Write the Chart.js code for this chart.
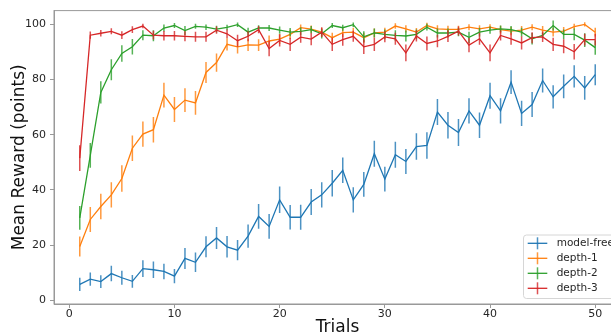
<!DOCTYPE html>
<html>
<head>
<meta charset="utf-8">
<script src="https://cdn.jsdelivr.net/npm/chart.js@4.4.0/dist/chart.umd.min.js"></script>
<style>
  html, body { margin: 0; padding: 0; background: #fff; overflow: hidden; }
  #wrap { width: 640px; height: 336px; }
</style>
</head>
<body>
<div id="wrap"><canvas id="chart" width="640" height="336"></canvas></div>
<script>
// x categories (trial number) and tick labels
const trials = [1, 2, 3, 4, 5, 6, 7, 8, 9, 10, 11, 12, 13, 14, 15, 16, 17, 18, 19, 20,
  21, 22, 23, 24, 25, 26, 27, 28, 29, 30, 31, 32, 33, 34, 35, 36, 37, 38, 39, 40,
  41, 42, 43, 44, 45, 46, 47, 48, 49, 50];
const xTicks = [0, 10, 20, 30, 40, 50];
const yTicks = [0, 20, 40, 60, 80, 100];

const seriesNames = ['model-free', 'depth-1', 'depth-2', 'depth-3'];
const seriesColors = ['#1f77b4', '#ff7f0e', '#2ca02c', '#d62728'];

// mean reward per trial
const modelFree = [5.8, 7.7, 6.8, 9.7, 8.2, 6.9, 11.5, 11.1, 10.5, 8.8,
  15.2, 13.8, 19.4, 22.6, 19.4, 18.2, 23.3, 30.4, 26.8, 36.4,
  30.1, 30.1, 35.6, 38.2, 42.4, 47.1, 36.4, 42.0, 53.1, 43.9,
  52.7, 50.3, 55.7, 56.1, 68.2, 63.4, 60.8, 68.6, 63.4, 74.1,
  68.6, 79.0, 67.7, 70.9, 79.6, 73.7, 77.5, 81.1, 76.9, 81.7];
const depth1 = [19.5, 29.3, 34.0, 38.2, 44.1, 55.1, 60.2, 61.8, 74.3, 69.1,
  72.5, 71.5, 82.5, 86.1, 92.7, 91.8, 92.5, 92.4, 93.9, 94.6,
  96.3, 98.7, 98.2, 97.1, 95.1, 96.9, 97.1, 95.1, 96.8, 97.1,
  99.3, 98.3, 97.1, 99.5, 98.3, 98.1, 98.1, 98.9, 98.3, 98.9,
  98.0, 97.5, 97.8, 98.9, 97.8, 97.1, 97.5, 99.1, 99.9, 97.1];
const depth2 = [29.9, 52.5, 75.3, 83.5, 89.4, 91.8, 96.0, 95.8, 98.6, 99.5,
  97.7, 99.2, 98.9, 98.2, 98.8, 99.8, 97.1, 98.6, 98.6, 97.8,
  97.1, 97.4, 98.0, 96.5, 99.5, 98.7, 99.8, 95.4, 96.8, 96.3,
  95.9, 95.7, 96.3, 98.9, 96.8, 96.8, 97.1, 95.2, 97.1, 97.8,
  98.3, 98.0, 97.1, 94.7, 95.9, 99.5, 96.3, 96.3, 94.2, 91.5];
const depth3 = [51.5, 96.0, 96.7, 97.4, 96.0, 98.0, 99.3, 96.0, 95.8, 95.8,
  95.6, 95.4, 95.4, 97.8, 96.5, 94.0, 95.6, 98.0, 91.2, 94.1,
  92.7, 95.3, 94.6, 97.1, 92.7, 94.4, 95.6, 91.8, 92.7, 95.4,
  94.7, 89.6, 95.7, 93.0, 93.9, 95.6, 97.5, 92.4, 94.7, 89.6,
  95.9, 94.7, 93.2, 95.1, 95.4, 92.7, 92.0, 90.0, 94.4, 94.4];

// error bar half-lengths
const modelFreeErr = [2.4, 2.4, 2.3, 2.8, 2.5, 2.3, 3.0, 3.0, 2.8, 2.6,
  3.8, 3.5, 3.8, 4.0, 3.9, 3.7, 4.2, 4.5, 4.5, 4.8,
  4.4, 4.5, 4.7, 4.6, 4.8, 4.6, 4.6, 4.5, 4.7, 4.5,
  4.7, 4.5, 4.8, 4.8, 4.7, 4.8, 4.9, 4.6, 4.6, 4.7,
  4.6, 4.3, 4.6, 4.5, 4.3, 4.2, 4.3, 4.0, 4.3, 3.8];
const depth1Err = [3.6, 4.5, 4.6, 4.6, 4.8, 4.6, 4.6, 4.6, 4.5, 4.5,
  4.3, 4.3, 3.8, 3.3, 2.2, 2.4, 2.2, 2.1, 2.0, 1.8,
  1.7, 1.2, 1.3, 1.5, 1.8, 1.6, 1.6, 1.8, 1.6, 1.6,
  1.0, 1.3, 1.5, 1.0, 1.3, 1.3, 1.3, 1.1, 1.3, 1.1,
  1.4, 1.5, 1.5, 1.1, 1.5, 1.6, 1.5, 1.0, 0.8, 1.6];
const depth2Err = [4.3, 4.5, 4.0, 3.8, 3.0, 2.8, 1.8, 2.0, 1.3, 0.9,
  1.6, 0.9, 1.0, 1.2, 1.0, 0.8, 1.6, 1.0, 1.1, 1.3,
  1.5, 1.4, 1.3, 1.7, 0.9, 1.1, 0.8, 2.0, 1.6, 1.8,
  1.9, 2.0, 1.8, 1.2, 1.6, 1.6, 1.5, 2.0, 1.6, 1.3,
  1.2, 1.3, 1.6, 2.1, 1.0, 1.8, 1.8, 2.1, 2.5, 2.6];
const depth3Err = [4.7, 1.3, 1.2, 1.1, 1.4, 1.2, 0.8, 1.6, 1.7, 1.7,
  1.8, 1.8, 1.8, 1.3, 1.6, 2.2, 1.8, 1.3, 2.8, 2.2,
  2.4, 2.0, 2.2, 1.8, 2.4, 2.2, 2.0, 2.6, 2.4, 2.0,
  2.2, 3.0, 2.0, 2.5, 2.3, 2.1, 1.6, 2.6, 2.2, 3.0,
  1.8, 2.2, 2.4, 2.0, 1.9, 2.4, 2.5, 2.8, 2.1, 2.1];

const FONT = "'DejaVu Sans', sans-serif";
const AXIS_GRAY = '#999999';
const TEXT = '#262626';

const seriesValues = [modelFree, depth1, depth2, depth3];
const seriesErrors = [modelFreeErr, depth1Err, depth2Err, depth3Err];

// vertical error bars, drawn through the chart's own scales
const errorBarPlugin = {
  id: 'errorBars',
  afterDatasetDraw(chart, args) {
    const ds = chart.data.datasets[args.index];
    if (!ds.errors) return;
    const xs = chart.scales.x;
    const ys = chart.scales.y;
    const area = chart.chartArea;
    const ctx = chart.ctx;
    ctx.save();
    ctx.beginPath();
    ctx.rect(area.left, area.top, area.right - area.left, area.bottom - area.top);
    ctx.clip();
    ctx.strokeStyle = ds.borderColor;
    ctx.globalAlpha = 0.8;
    ctx.lineWidth = 1.5;
    ctx.beginPath();
    ds.data.forEach((pt, i) => {
      const x = xs.getPixelForValue(pt.x);
      ctx.moveTo(x, ys.getPixelForValue(pt.y - ds.errors[i]));
      ctx.lineTo(x, ys.getPixelForValue(pt.y + ds.errors[i]));
    });
    ctx.stroke();
    ctx.restore();
  }
};

// top / right spines (left and bottom come from the axis borders)
const framePlugin = {
  id: 'frame',
  afterDraw(chart) {
    const a = chart.chartArea;
    const ctx = chart.ctx;
    ctx.save();
    ctx.strokeStyle = AXIS_GRAY;
    ctx.lineWidth = 1;
    ctx.strokeRect(a.left, a.top, a.right - a.left, a.bottom - a.top);
    ctx.restore();
  }
};

// matplotlib-like legend box in the lower right corner
const boxLegendPlugin = {
  id: 'boxLegend',
  afterDraw(chart) {
    const a = chart.chartArea;
    const ctx = chart.ctx;
    const w = 92, h = 63.5;
    const right = a.right - 5.5;
    const bottom = a.bottom - 5.5;
    const left = right - w;
    const top = bottom - h;
    ctx.save();
    ctx.beginPath();
    ctx.roundRect(left, top, w, h, 3);
    ctx.fillStyle = 'rgba(255,255,255,0.8)';
    ctx.fill();
    ctx.strokeStyle = '#d6d6d6';
    ctx.lineWidth = 1;
    ctx.stroke();
    ctx.font = '10.5px ' + FONT;
    ctx.textBaseline = 'middle';
    chart.data.datasets.forEach((ds, i) => {
      const cy = top + 8.3 + i * 15;
      ctx.strokeStyle = ds.borderColor;
      ctx.lineWidth = 1.3;
      ctx.beginPath();
      ctx.moveTo(left + 4.2, cy);
      ctx.lineTo(left + 23.8, cy);
      ctx.stroke();
      ctx.globalAlpha = 0.8;
      ctx.lineWidth = 1.5;
      ctx.beginPath();
      ctx.moveTo(left + 14, cy - 6);
      ctx.lineTo(left + 14, cy + 6);
      ctx.stroke();
      ctx.globalAlpha = 1;
      ctx.fillStyle = TEXT;
      ctx.fillText(ds.label, left + 33.2, cy);
    });
    ctx.restore();
  }
};

const datasets = seriesNames.map((name, s) => ({
  label: name,
  data: trials.map((t, i) => ({ x: t, y: seriesValues[s][i] })),
  errors: seriesErrors[s],
  borderColor: seriesColors[s],
  backgroundColor: seriesColors[s],
  borderWidth: 1.3,
  pointRadius: 0,
  tension: 0,
  fill: false,
  order: seriesNames.length - 1 - s
}));

new Chart(document.getElementById('chart'), {
  type: 'line',
  data: { datasets },
  plugins: [errorBarPlugin, framePlugin, boxLegendPlugin],
  options: {
    responsive: false,
    animation: false,
    devicePixelRatio: 1,
    layout: { padding: { left: 0, top: 7, right: 19, bottom: 0 } },
    plugins: {
      legend: { display: false },
      tooltip: { enabled: false }
    },
    scales: {
      x: {
        type: 'linear',
        min: -1.45,
        max: 52.45,
        afterBuildTicks: (scale) => { scale.ticks = xTicks.map(v => ({ value: v })); },
        afterFit: (scale) => { scale.height = 32; },
        grid: { drawOnChartArea: false, drawTicks: true, tickLength: 4, color: AXIS_GRAY },
        border: { display: true, color: AXIS_GRAY, width: 1 },
        ticks: { color: TEXT, font: { family: FONT, size: 11 }, padding: 0, maxRotation: 0 },
        title: {
          display: true,
          text: 'Trials',
          color: '#111',
          font: { family: FONT, size: 17, lineHeight: 1.0 },
          padding: { top: 0, bottom: 0 }
        }
      },
      y: {
        type: 'linear',
        min: -1.3,
        max: 104.9,
        afterBuildTicks: (scale) => { scale.ticks = yTicks.map(v => ({ value: v })); },
        afterFit: (scale) => { scale.width = 54; },
        grid: { drawOnChartArea: false, drawTicks: true, tickLength: 4, color: AXIS_GRAY },
        border: { display: true, color: AXIS_GRAY, width: 1 },
        ticks: { color: TEXT, font: { family: FONT, size: 11 }, padding: 4 },
        title: {
          display: true,
          text: 'Mean Reward (points)',
          color: '#111',
          font: { family: FONT, size: 17, lineHeight: 1.2 },
          padding: { top: 9, bottom: 0 }
        }
      }
    }
  }
});
</script>
</body>
</html>
